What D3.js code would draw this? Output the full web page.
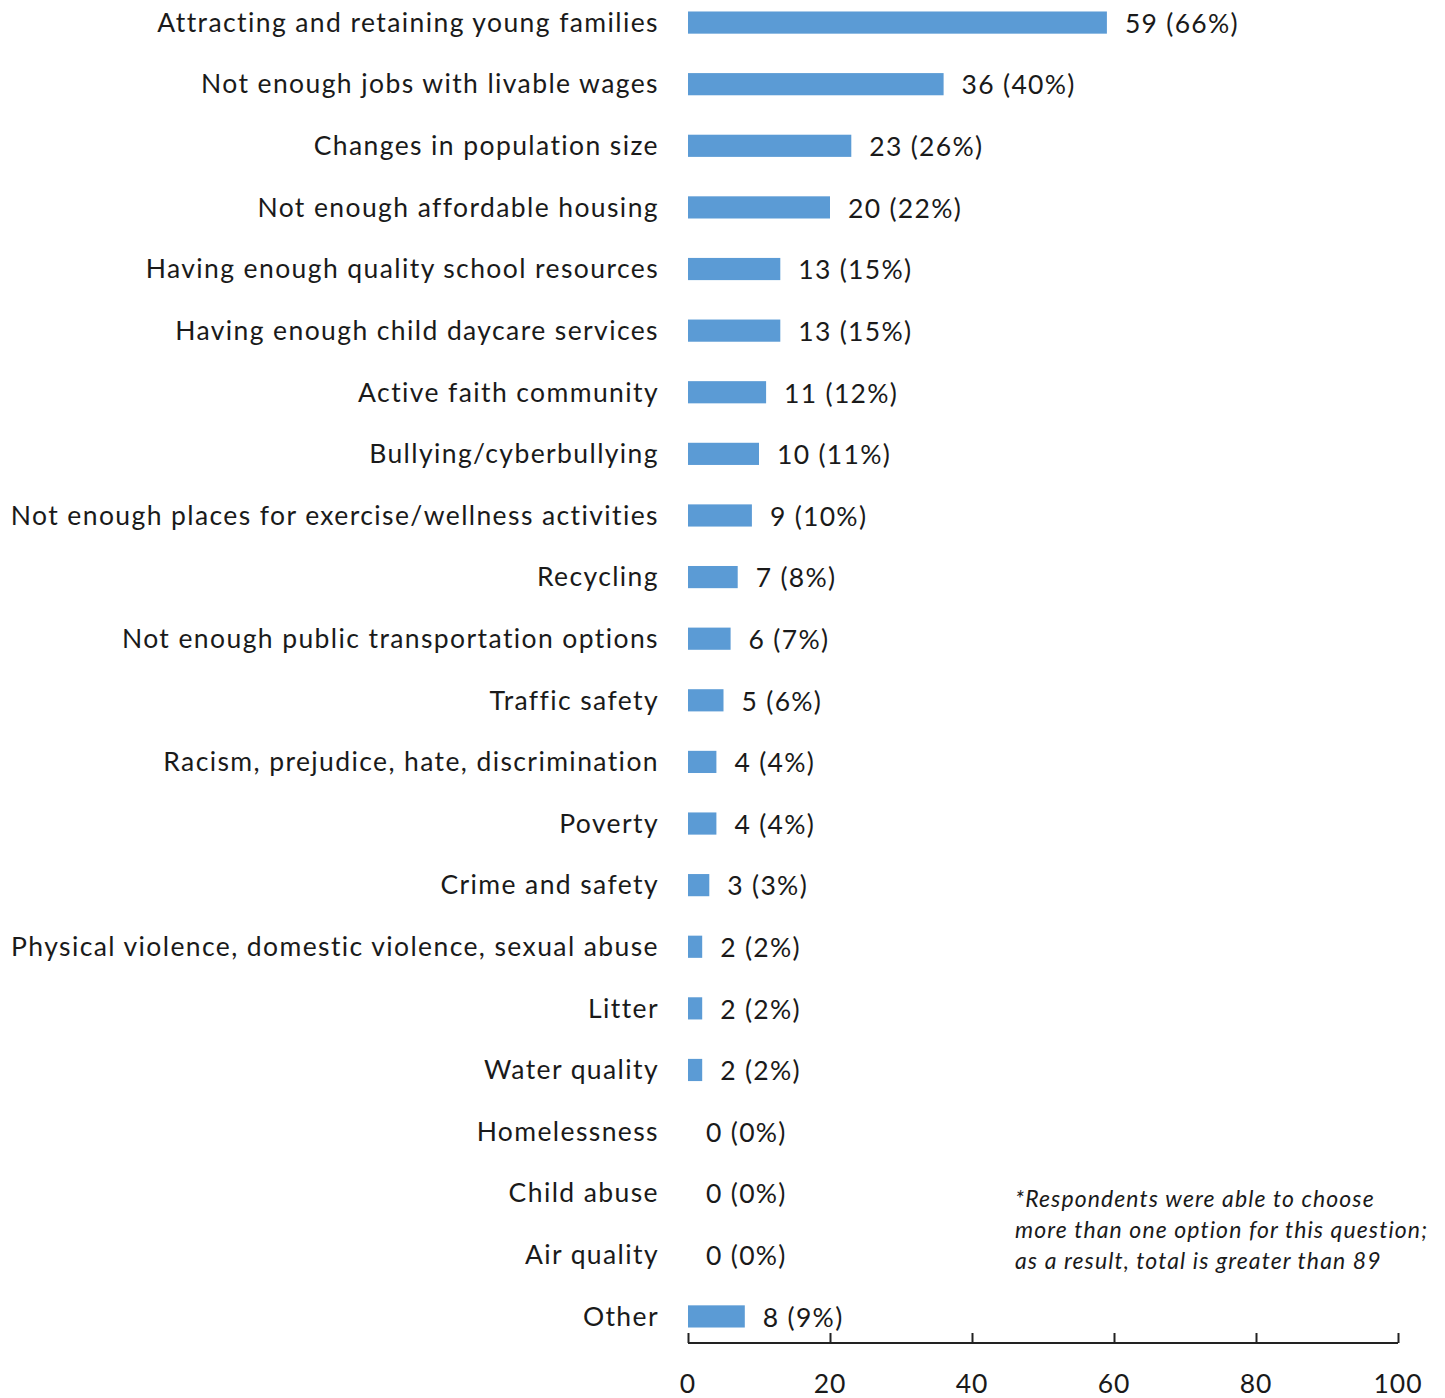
<!DOCTYPE html>
<html>
<head>
<meta charset="utf-8">
<script src="https://cdn.jsdelivr.net/npm/d3@7"></script>
<style>
  body { margin: 0; background: #fff; }
  text { font-family: Lato, "Open Sans", sans-serif; fill: #1a1a1a; }
</style>
</head>
<body>
<script>
// ! Data
const categories = [
  'Attracting and retaining young families',
  'Not enough jobs with livable wages',
  'Changes in population size',
  'Not enough affordable housing',
  'Having enough quality school resources',
  'Having enough child daycare services',
  'Active faith community',
  'Bullying/cyberbullying',
  'Not enough places for exercise/wellness activities',
  'Recycling',
  'Not enough public transportation options',
  'Traffic safety',
  'Racism, prejudice, hate, discrimination',
  'Poverty',
  'Crime and safety',
  'Physical violence, domestic violence, sexual abuse',
  'Litter',
  'Water quality',
  'Homelessness',
  'Child abuse',
  'Air quality',
  'Other',
];
const counts = [59, 36, 23, 20, 13, 13, 11, 10, 9, 7, 6, 5, 4, 4, 3, 2, 2, 2, 0, 0, 0, 8];
const percents = [66, 40, 26, 22, 15, 15, 12, 11, 10, 8, 7, 6, 4, 4, 3, 2, 2, 2, 0, 0, 0, 9];
const xTicks = [0, 20, 40, 60, 80, 100];
const footnote = [
  '*Respondents were able to choose',
  'more than one option for this question;',
  'as a result, total is greater than 89',
];

// * Sizes
const width = 1445;
const height = 1398;
const margin = { top: 0, right: 47, bottom: 58, left: 688 };

const svg = d3.select('body')
  .append('svg')
  .attr('width', width)
  .attr('height', height);

const x = d3.scaleLinear()
  .domain([0, 100])
  .range([margin.left, width - margin.right]);

const y = d3.scaleBand()
  .domain(categories)
  .range([-7, 1346])
  .paddingInner(0.64)
  .paddingOuter(0.3);

const rows = categories.map((c, i) => ({ c, n: counts[i], p: percents[i] }));

// * Bars
svg.append('g')
  .selectAll('rect')
  .data(rows.filter((d) => d.n > 0))
  .join('rect')
  .attr('x', x(0))
  .attr('y', (d) => y(d.c))
  .attr('width', (d) => x(d.n) - x(0))
  .attr('height', y.bandwidth())
  .attr('fill', '#5b9bd5');

// * Category labels
svg.append('g')
  .selectAll('text')
  .data(rows)
  .join('text')
  .attr('x', 659)
  .attr('y', (d) => y(d.c) + y.bandwidth() / 2)
  .attr('dy', '0.35em')
  .attr('text-anchor', 'end')
  .style('font-size', '26.5px')
  .style('letter-spacing', '1.4px')
  .text((d) => d.c);

// * Value labels
svg.append('g')
  .selectAll('text')
  .data(rows)
  .join('text')
  .attr('x', (d) => x(d.n) + 18)
  .attr('y', (d) => y(d.c) + y.bandwidth() / 2 + 1)
  .attr('dy', '0.35em')
  .style('font-size', '26.5px')
  .style('letter-spacing', '1.3px')
  .text((d) => `${d.n} (${d.p}%)`);

// ! Axis
const axisY = 1343;
const axis = svg.append('g')
  .attr('transform', `translate(0, ${axisY})`)
  .call(d3.axisTop(x).tickValues(xTicks).tickSize(10).tickFormat(''));
axis.select('.domain').attr('stroke', '#222').attr('stroke-width', 2)
  .attr('d', `M${x(0)},0H${x(100)}`);
axis.selectAll('.tick line').attr('stroke', '#222').attr('stroke-width', 2);

svg.append('g')
  .selectAll('text')
  .data(xTicks)
  .join('text')
  .attr('x', (d) => x(d))
  .attr('y', 1393)
  .attr('text-anchor', 'middle')
  .style('font-size', '26.5px')
  .style('letter-spacing', '1px')
  .text((d) => d);

// ! Footnote
svg.append('g')
  .selectAll('text')
  .data(footnote)
  .join('text')
  .attr('x', 1015)
  .attr('y', (d, i) => 1207 + i * 31)
  .style('font-size', '23px')
  .style('font-style', 'italic')
  .style('letter-spacing', '1.1px')
  .text((d) => d);
</script>
</body>
</html>
